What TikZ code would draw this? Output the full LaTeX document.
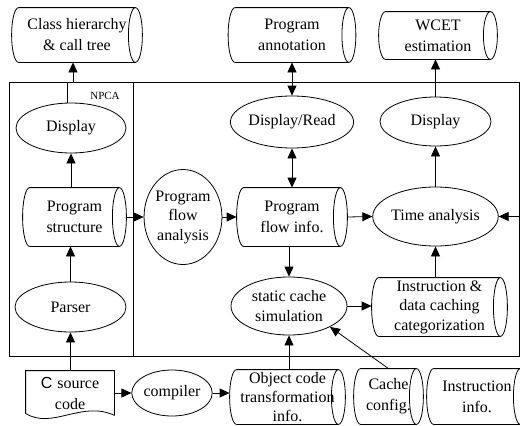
\documentclass[tikz,border=0pt]{standalone}
\usepackage{fontspec}
\setmainfont{Liberation Serif}
\newfontfamily\arialf{Liberation Sans}
\usetikzlibrary{arrows.meta,shapes.geometric,calc}

\newcommand\cylout[2][7]{%
  \draw let \p1=(#2.north west), \p2=(#2.south east),
            \n1={(\y1-\y2)/2}, \n2={(\y1+\y2)/2} in
    (\x1+#1pt,\y1) -- (\x2-#1pt,\y1)
    (\x1+#1pt,\y1) arc[start angle=90,end angle=270,x radius=#1pt,y radius=\n1] -- (\x2-#1pt,\y2)
    (\x2-#1pt,\n2) ellipse[x radius=#1pt,y radius=\n1];}

\tikzset{
  every node/.style={font=\rmfamily\fontsize{16}{21}\selectfont, align=center},
  ell/.style={draw, ellipse, inner sep=0pt},
  cylbox/.style={inner sep=0pt},
  arr/.style={-{Triangle[length=10pt,width=9pt]}},
  darr/.style={{Triangle[length=10pt,width=9pt]}-{Triangle[length=10pt,width=9pt]}},
}

\begin{document}
\begin{tikzpicture}[x=1pt,y=1pt,line width=0.8pt]
\useasboundingbox (0,0) rectangle (520,-426);

% frame
\draw (9,-82) rectangle (519,-356);
\draw (133,-82) -- (133,-356);
\node[font=\rmfamily\fontsize{11}{13}\selectfont] (npca) at (105,-96) {NPCA};

% top row
\node[cylbox, minimum width=130, minimum height=54] (cls) at (77,-35) {Class hierarchy\\\& call tree};
\node[cylbox, minimum width=127, minimum height=54] (annot) at (292,-35) {Program\\annotation};
\node[cylbox, minimum width=118, minimum height=47] (wcet) at (438,-35.5) {WCET\\estimation};
\cylout{cls}\cylout{annot}\cylout{wcet}

% left column
\node[ell, minimum width=110, minimum height=50] (dispL) at (71,-128) {Display};
\node[cylbox, minimum width=103, minimum height=58] (pstruct) at (74.5,-217) {Program\\structure};
\node[ell, minimum width=111, minimum height=50] (parser) at (70.5,-307) {Parser};
\cylout{pstruct}

% middle
\node[ell, minimum width=76, minimum height=95, font=\rmfamily\fontsize{16}{19.5}\selectfont] (pfa) at (183,-217) {Program\\flow\\analysis};
\node[ell, minimum width=118, minimum height=52] (dr) at (292,-122) {Display/Read};
\node[cylbox, minimum width=110, minimum height=58] (pfi) at (292,-217) {Program\\flow info.};
\node[ell, minimum width=116, minimum height=58, font=\rmfamily\fontsize{16}{20}\selectfont] (scs) at (289,-306) {static cache\\simulation};
\cylout{pfi}

% right
\node[ell, minimum width=111, minimum height=49] (dispR) at (435.5,-121.5) {Display};
\node[ell, minimum width=121, minimum height=59] (ta) at (435.5,-216.5) {Time analysis};
\node[cylbox, minimum width=135, minimum height=58, font=\rmfamily\fontsize{16}{19.5}\selectfont] (idc) at (439.5,-307) {Instruction \&\\data caching\\categorization};
\cylout{idc}

% bottom row
\node[cylbox, minimum width=88, minimum height=44] (csrc) at (70,-393) {{\arialf C}\hspace{5pt}source\\code};
\draw (csrc.south east) -- (csrc.north east) -- (csrc.north west) -- ([yshift=2pt]csrc.south west)
  .. controls (52,-430) and (82,-400) .. (csrc.south east);
\node[ell, minimum width=78, minimum height=46] (comp) at (172,-393) {compiler};
\node[cylbox, minimum width=115, minimum height=54, font=\rmfamily\fontsize{16}{19}\selectfont] (obj) at (287.5,-397) {Object code\\transformation\\info.};
\node[cylbox, minimum width=69, minimum height=55] (cc) at (388.5,-396.5) {Cache\\config.};
\node[cylbox, minimum width=100, minimum height=55] (ii) at (477,-396.5) {Instruction\\info.};
\cylout{obj}\cylout{cc}\cylout{ii}

% connectors
\coordinate (jog) at (73,-82);
\draw[arr] ([xshift=-4pt]dispL.north) |- (jog) -- (jog |- cls.south);
\draw[arr] (dispL.south |- pstruct.north) -- (dispL.south);
\draw[arr] (parser.north) -- (parser.north |- pstruct.south);
\draw[arr] (csrc.north -| parser) -- (parser.south);
\draw[arr] (csrc.east) -- (comp.west);
\draw[arr] (comp.east) -- (comp.east -| obj.west);
\draw[arr] (obj.north -| scs) -- (scs.south);
\draw[arr] (cc.north) -- (scs.-27);
\draw[arr] (pstruct.east) -- (pfa.west);
\draw[arr] (pfa.east) -- (pfi.west);
\draw[darr] (pfi.north) -- (dr.south);
\draw[darr] (dr.north) -- (annot.south);
\draw[arr] (pfi.south -| scs) -- (scs.north);
\draw[arr] (pfi.east) -- (ta.west);
\draw[arr] (scs.east) -- (scs.east -| idc.west);
\draw[arr] (idc.north -| ta) -- (ta.south);
\draw[arr] (ta.north) -- (dispR.south);
\draw[arr] (dispR.north) -- (dispR.north |- wcet.south);
\coordinate (redge) at (519,-216.5);
\draw[arr] (redge) -- (ta.east);
\end{tikzpicture}
\end{document}
